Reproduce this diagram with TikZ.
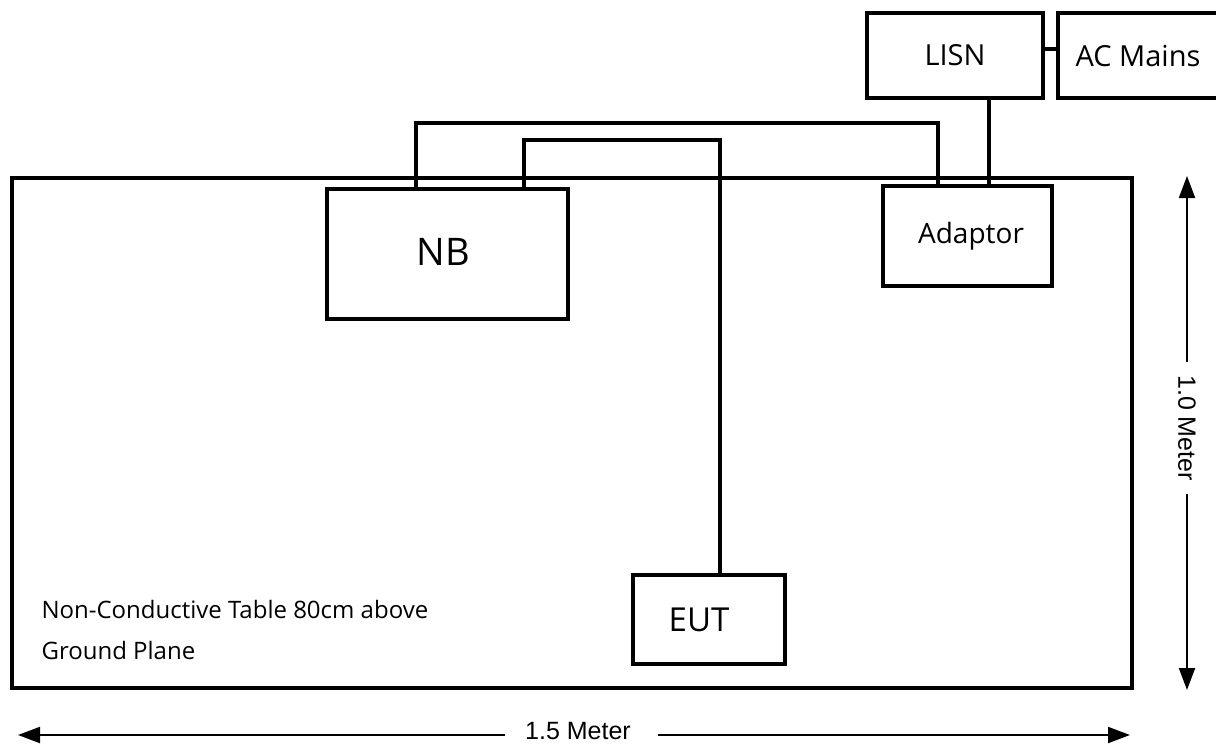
\documentclass[tikz,border=0pt]{standalone}
\usepackage{fontspec}
\setmainfont{Open Sans}
\newfontfamily\dimfont{Liberation Sans}
\usetikzlibrary{arrows.meta}
\tikzset{
  box/.style={draw, line width=4pt, inner sep=0pt, outer sep=0pt},
  cable/.style={line width=4pt},
  dimline/.style={line width=2pt, -{Triangle[length=22pt,width=16pt]}},
  dimlabel/.style={font=\dimfont\fontsize{25}{30}\selectfont}
}
\begin{document}
\begin{tikzpicture}[x=1pt,y=-1pt]
\useasboundingbox[fill=white] (0,0) rectangle (1216,744);
% table
\node[box, minimum width=1120pt, minimum height=510pt] (table) at (572,433) {};
% boxes
\node[box, minimum width=241pt, minimum height=130pt] (nb) at (447.5,254) {};
\node[font=\fontsize{38}{44}\selectfont] (nbt) at (443,252) {NB};
\node[box, minimum width=169pt, minimum height=100pt] (adp) at (967.5,235.5) {};
\node[font=\fontsize{28}{34}\selectfont] (adpt) at (971,236) {Adaptor};
\node[box, minimum width=176pt, minimum height=85pt, font=\fontsize{29}{34}\selectfont] (lisn) at (955,55.5) {LISN};
\node[box, minimum width=160pt, minimum height=85pt, font=\fontsize{29}{34}\selectfont] (ac) at (1138,55.5) {AC Mains};
\node[box, minimum width=152pt, minimum height=89pt] (eut) at (709,619.5) {};
\node[font=\fontsize{33}{38}\selectfont] (eutt) at (699,620) {EUT};
% cables
\draw[cable] (lisn.east |- 0,49) -- (ac.west |- 0,49);
\draw[cable] (lisn.south -| 989,0) -- (adp.north -| 989,0);
\draw[cable] (nb.north -| 416,0) -- (416,123) -- (938,123) -- (adp.north -| 938,0);
\draw[cable] (nb.north -| 524,0) -- (524,140) -- (720,140) -- (eut.north -| 720,0);
% table caption
\node[anchor=west, font=\fontsize{24}{28}\selectfont] (cap1) at (38,609) {Non-Conductive Table 80cm above};
\node[anchor=west, font=\fontsize{24}{28}\selectfont] (cap2) at (38,650) {Ground Plane};
% dimensions
\node[dimlabel, rotate=-90, inner xsep=13pt] (vlab) at (1187,428) {1.0 Meter};
\coordinate (vtop) at (1187,176);
\coordinate (vbot) at (1187,690);
\draw[dimline] (vlab.west) -- (vtop);
\draw[dimline] (vlab.east) -- (vbot);
\node[dimlabel, inner sep=0pt] (hlab) at (578,731) {1.5 Meter};
\coordinate (hleft) at (18,735);
\coordinate (hright) at (1130,735);
\draw[dimline] (505,735) -- (hleft);
\draw[dimline] (658,735) -- (hright);
\end{tikzpicture}
\end{document}
